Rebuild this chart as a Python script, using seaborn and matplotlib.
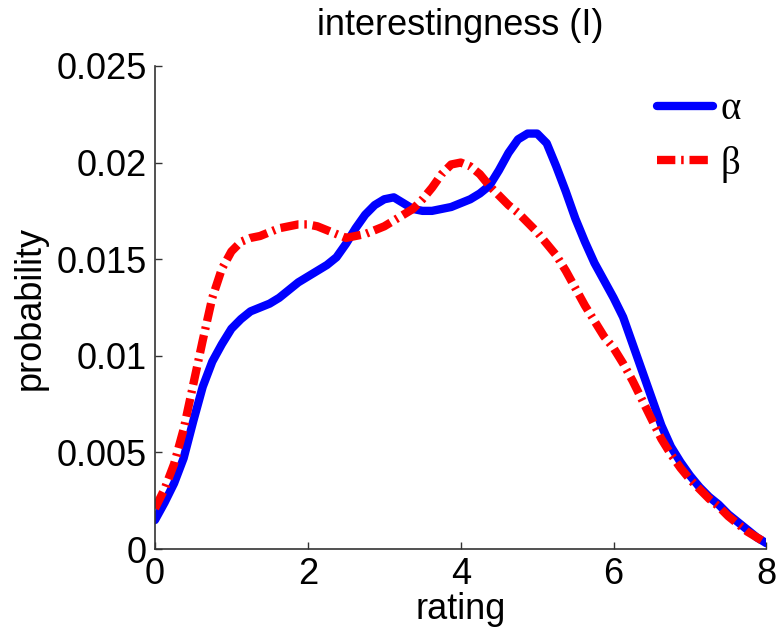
import numpy as np
import pandas as pd
import matplotlib
matplotlib.use("Agg")
import matplotlib.pyplot as plt
from matplotlib.ticker import FuncFormatter
import seaborn as sns

rating = [0.0, 0.125, 0.25, 0.375, 0.5, 0.625, 0.75, 0.875,
          1.0, 1.125, 1.25, 1.375, 1.5, 1.625, 1.75, 1.875,
          2.0, 2.125, 2.25, 2.375, 2.5, 2.625, 2.75, 2.875,
          3.0, 3.125, 3.25, 3.375, 3.5, 3.625, 3.75, 3.875,
          4.0, 4.125, 4.25, 4.375, 4.5, 4.625, 4.75, 4.875,
          5.0, 5.125, 5.25, 5.375, 5.5, 5.625, 5.75, 5.875,
          6.0, 6.125, 6.25, 6.375, 6.5, 6.625, 6.75, 6.875,
          7.0, 7.125, 7.25, 7.375, 7.5, 7.625, 7.75, 7.875, 8.0]
alpha_prob = [0.0015, 0.0024, 0.0034, 0.0047, 0.0066, 0.0084, 0.0097, 0.0106,
              0.0114, 0.0119, 0.0123, 0.0125, 0.0127, 0.0130, 0.0134, 0.0138,
              0.0141, 0.0144, 0.0147, 0.0151, 0.0158, 0.0166, 0.0173, 0.0178,
              0.0181, 0.0182, 0.0179, 0.0176, 0.0175, 0.0175, 0.0176, 0.0177,
              0.0179, 0.0181, 0.0184, 0.0188, 0.0196, 0.0205, 0.0212, 0.0215,
              0.0215, 0.0210, 0.0198, 0.0185, 0.0171, 0.0159, 0.0148, 0.0139,
              0.0130, 0.0120, 0.0106, 0.0092, 0.0078, 0.0064, 0.0053, 0.0045,
              0.0038, 0.0032, 0.0027, 0.0023, 0.0018, 0.0014, 0.0010, 0.0006,
              0.0003]
beta_prob = [0.0021, 0.0031, 0.0044, 0.0062, 0.0085, 0.0108, 0.0130, 0.0145,
             0.0154, 0.0159, 0.0161, 0.0162, 0.0164, 0.0166, 0.0167, 0.0168,
             0.0168, 0.0167, 0.0165, 0.0163, 0.0161, 0.0162, 0.0163, 0.0165,
             0.0167, 0.0170, 0.0173, 0.0176, 0.0181, 0.0187, 0.0194, 0.0199,
             0.0200, 0.0198, 0.0194, 0.0188, 0.0183, 0.0178, 0.0174, 0.0169,
             0.0164, 0.0158, 0.0152, 0.0144, 0.0135, 0.0126, 0.0118, 0.0110,
             0.0104, 0.0096, 0.0087, 0.0077, 0.0067, 0.0057, 0.0049, 0.0042,
             0.0036, 0.0031, 0.0026, 0.0022, 0.0017, 0.0013, 0.0009, 0.0006,
             0.0003]
series_names = ["\u03b1", "\u03b2"]
x_ticks = [0, 2, 4, 6, 8]
y_ticks = [0, 0.005, 0.01, 0.015, 0.02, 0.025]

df = pd.DataFrame({
    "rating": rating * 2,
    "probability": alpha_prob + beta_prob,
    "series": [series_names[0]] * len(rating) + [series_names[1]] * len(rating),
})

sns.set_style("ticks")
plt.rcParams["font.family"] = ["Liberation Sans", "DejaVu Sans"]
plt.rcParams["xtick.direction"] = "in"
plt.rcParams["ytick.direction"] = "in"
plt.rcParams["text.color"] = "black"
plt.rcParams["axes.labelcolor"] = "black"
plt.rcParams["xtick.color"] = "black"
plt.rcParams["ytick.color"] = "black"

fig = plt.figure(figsize=(7.76, 6.34), dpi=100)
ax = fig.add_axes([0.1997, 0.134, 0.788, 0.762])

sns.lineplot(data=df, x="rating", y="probability", hue="series", style="series",
             palette={series_names[0]: "#0000ff", series_names[1]: "#ff0000"},
             dashes={series_names[0]: "", series_names[1]: (2.2, 0.7, 0.3, 0.7)},
             linewidth=6, ax=ax)
for line in ax.get_lines():
    line.set_solid_joinstyle("round")
    line.set_dash_joinstyle("round")

ax.set_xlim(0, 8)
ax.set_ylim(0, 0.025)
ax.set_xticks(x_ticks)
ax.set_yticks(y_ticks)
ax.yaxis.set_major_formatter(FuncFormatter(lambda v, p: "%g" % v))
ax.tick_params(labelsize=26, length=5, width=1, color="#333333", pad=6)
for s in ["left", "bottom"]:
    ax.spines[s].set_linewidth(1.2)
    ax.spines[s].set_color("#333333")
sns.despine(ax=ax)

ax.set_xlabel("rating", fontsize=26, labelpad=0)
ax.set_ylabel("probability", fontsize=26, labelpad=6)
ax.set_title("interestingness (I)", fontsize=26, pad=22)

leg = ax.legend(loc="upper right", frameon=False, handlelength=1.45,
                handletextpad=0.2, labelspacing=0.45, borderaxespad=0.25,
                prop={"family": "Liberation Serif", "size": 28})
for line in leg.get_lines():
    line.set_linewidth(6)

plt.savefig("out.png", dpi=100)
